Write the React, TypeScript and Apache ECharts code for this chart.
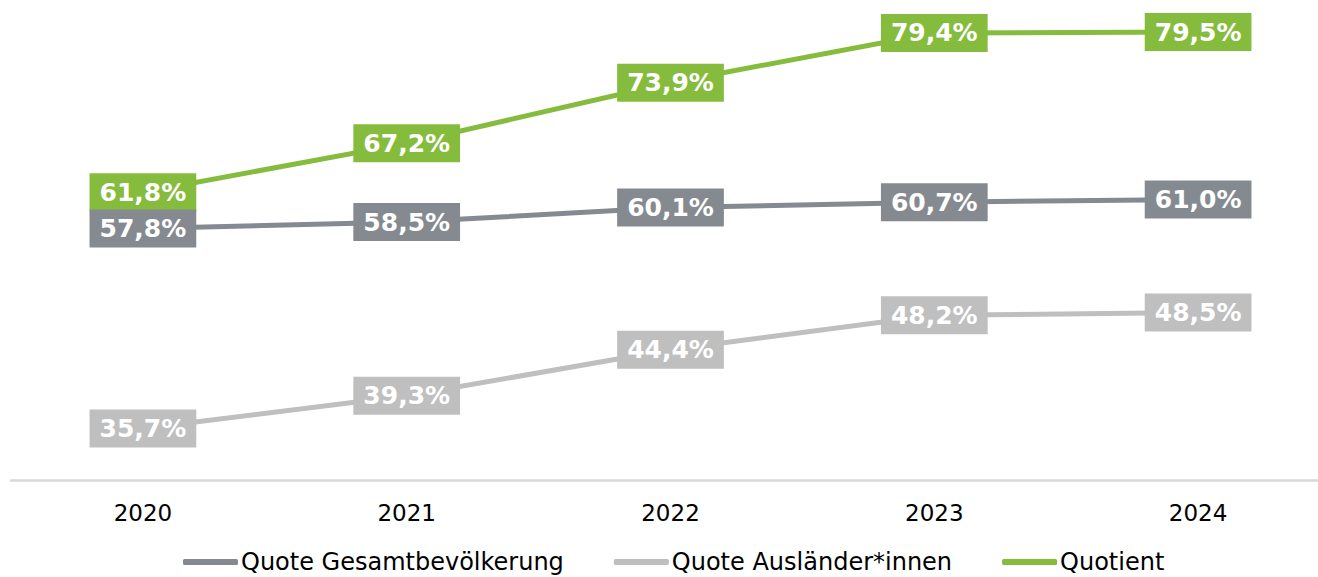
import React, { useEffect, useRef } from "react";
import * as echarts from "echarts";

const categories = ["2020", "2021", "2022", "2023", "2024"];
const gesamt = [57.8, 58.5, 60.1, 60.7, 61.0];
const auslaender = [35.7, 39.3, 44.4, 48.2, 48.5];
const quotient = [61.8, 67.2, 73.9, 79.4, 79.5];
const seriesNames = ["Quote Gesamtbevölkerung", "Quote Ausländer*innen", "Quotient"];
const colors = ["#858A91", "#BFBFBF", "#86BC3D"];

const FONT = "DejaVu Sans";

export default function App() {
  const ref = useRef<HTMLDivElement>(null);
  useEffect(() => {
    if (!ref.current) return;
    const chart = echarts.init(ref.current, null, { renderer: "svg" });
    const mk = (name: string, data: number[], color: string, z: number) => ({
      name,
      type: "line",
      data,
      z,
      symbol: "rect",
      symbolSize: 1,
      showSymbol: true,
      lineStyle: { color, width: 5 },
      itemStyle: { color },
      label: {
        show: true,
        position: "inside",
        formatter: (p: any) => p.value.toFixed(1).replace(".", ",") + "%",
        color: "#ffffff",
        fontFamily: FONT,
        fontWeight: "bold",
        fontSize: 25,
        lineHeight: 25,
        backgroundColor: color,
        padding: [7, 10, 6, 10],
      },
      emphasis: { disabled: true },
    });
    chart.setOption({
      animation: false,
      color: colors,
      grid: { left: 11, right: 10, top: 27.5, bottom: 97, containLabel: false },
      xAxis: {
        type: "category",
        data: categories,
        boundaryGap: true,
        axisLine: { show: true, lineStyle: { color: "#D9D9D9", width: 2.5 } },
        axisTick: { show: false },
        axisLabel: { color: "#000000", fontFamily: FONT, fontSize: 23, margin: 21 },
        splitLine: { show: false },
      },
      yAxis: {
        type: "value",
        min: 30,
        max: 80,
        show: false,
        splitLine: { show: false },
      },
      legend: {
        left: 183,
        top: 548,
        icon: "roundRect",
        itemWidth: 55,
        itemHeight: 6,
        itemGap: 50,
        padding: 0,
        textStyle: { color: "#000000", fontFamily: FONT, fontSize: 24, lineHeight: 28, padding: [0, 0, 0, -2] },
        data: seriesNames,
      },
      series: [
        mk(seriesNames[0], gesamt, colors[0], 3),
        mk(seriesNames[1], auslaender, colors[1], 2),
        mk(seriesNames[2], quotient, colors[2], 2),
      ],
    });
    return () => chart.dispose();
  }, []);
  return (
    <div
      ref={ref}
      style={{ position: "fixed", left: 0, top: 0, width: 1340, height: 577, background: "#ffffff" }}
    />
  );
}
